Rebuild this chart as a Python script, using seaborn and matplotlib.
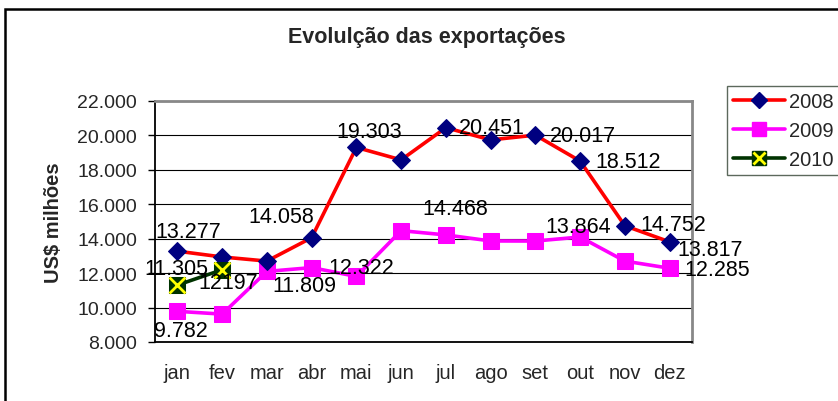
import matplotlib
matplotlib.use("Agg")
from matplotlib import pyplot as plt
from matplotlib.lines import Line2D
from matplotlib.patches import Rectangle
import numpy as np
import seaborn as sns

# data (US$ milhões)
months = ['jan', 'fev', 'mar', 'abr', 'mai', 'jun', 'jul', 'ago', 'set', 'out', 'nov', 'dez']
exp2008 = [13277, 12940, 12700, 14058, 19303, 18580, 20451, 19740, 20017, 18512, 14752, 13817]
exp2009 = [9782, 9620, 12100, 12322, 11809, 14468, 14220, 13870, 13864, 14100, 12700, 12285]
exp2010 = [11305, 12197]

# data labels as shown on the chart: (series, month index, text)
label_series = ['2008', '2010', '2010', '2008', '2009', '2008', '2009', '2009',
                '2008', '2008', '2008', '2009', '2008', '2008', '2009', '2009']
label_idx = [0, 0, 1, 3, 4, 4, 3, 5, 6, 8, 9, 8, 10, 11, 11, 0]
label_text = ['13.277', '11.305', '12197', '14.058', '11.809', '19.303', '12.322', '14.468',
              '20.451', '20.017', '18.512', '13.864', '14.752', '13.817', '12.285', '9.782']
# label offsets in pixels (layout only)
label_off = [(11, 20), (-1, 17), (6, -13), (-30, 21), (-52, -9), (13, 16), (50, 0), (54, 22),
             (46, 0), (48, 0), (48, 0), (43, 15), (48, 1), (40, -8), (48, -1), (3, -19)]

sns.set_style("white")
plt.rcParams['font.family'] = ['Liberation Sans', 'DejaVu Sans']

fig = plt.figure(figsize=(8.38, 4.02), dpi=100)
ax = fig.add_axes([155 / 838, 59 / 402, 537 / 838, 241 / 402])

x = np.arange(len(months))
sns.lineplot(x=x, y=exp2008, ax=ax, color='#FF0000', lw=2.6, marker='D', markersize=9.5,
             markerfacecolor='#000080', markeredgecolor='#000080', zorder=4)
sns.lineplot(x=x, y=exp2009, ax=ax, color='#FF00FF', lw=2.6, marker='s', markersize=12,
             markerfacecolor='#FF00FF', markeredgecolor='#FF00FF', zorder=3)
x10 = x[:len(exp2010)]
sns.lineplot(x=x10, y=exp2010, ax=ax, color='#003300', lw=2.6, marker='s', markersize=12,
             markerfacecolor='#003300', markeredgecolor='#003300', zorder=5)
ax.plot(x10, exp2010, ls='none', marker='x', markersize=11, mew=2, color='#FFFF00', zorder=6)

series = {'2008': exp2008, '2009': exp2009, '2010': exp2010}
for s, i, t, (dx, dy) in zip(label_series, label_idx, label_text, label_off):
    ax.annotate(t, (x[i], series[s][i]), xytext=(dx, dy), textcoords='offset pixels',
                ha='center', va='center', fontsize=15.5, color='black', zorder=7)

ax.set_xlim(-0.5, 11.5)
ax.set_ylim(8000, 22000)
ax.set_yticks(np.arange(8000, 22001, 2000))
ax.set_yticklabels([f"{v:,.0f}".replace(",", ".") for v in np.arange(8000, 22001, 2000)], fontsize=14)
ax.set_xticks(x)
ax.set_xticklabels(months, fontsize=14.5)
ax.set_xticks(np.arange(-0.5, 12, 1), minor=True)
ax.tick_params(axis='x', which='major', length=0, pad=15)
ax.tick_params(axis='x', which='minor', length=5, width=1, direction='out', color='black')
ax.tick_params(axis='y', length=5, width=1, direction='out', color='black', left=True, pad=8)
ax.grid(axis='y', color='black', lw=0.8)
ax.set_axisbelow(True)
for sp in ['left', 'bottom']:
    ax.spines[sp].set_color('black')
    ax.spines[sp].set_linewidth(1.3)
for sp in ['top', 'right']:
    ax.spines[sp].set_color('#888888')
    ax.spines[sp].set_linewidth(2)
ax.set_xlabel('')
ax.set_ylabel('US$ milhões', fontsize=14.5, fontweight='bold', labelpad=10)

fig.text(427 / 838, 1 - 38 / 402, 'Evolulção das exportações', ha='center', va='center',
         fontsize=15.5, fontweight='bold')

# outer chart border
fig.patches.append(Rectangle((5 / 838, -0.1), 1.2, 1 - 9.5 / 402 + 0.1, transform=fig.transFigure,
                             fill=False, edgecolor='black', lw=1.8, clip_on=False))

h08 = Line2D([], [], color='#FF0000', lw=2.6, marker='D', markersize=8,
             markerfacecolor='#000080', markeredgecolor='#000080')
h09 = Line2D([], [], color='#FF00FF', lw=2.6, marker='s', markersize=10,
             markerfacecolor='#FF00FF', markeredgecolor='#FF00FF')
h10a = Line2D([], [], color='#003300', lw=2.6, marker='s', markersize=10,
              markerfacecolor='#003300', markeredgecolor='#003300')
h10b = Line2D([], [], ls='none', marker='x', markersize=9, mew=2, color='#FFFF00')
leg = fig.legend([h08, h09, (h10a, h10b)], ['2008', '2009', '2010'],
                 loc='upper left', bbox_to_anchor=(727 / 838, 1 - 87 / 402),
                 fontsize=14.5, frameon=True, fancybox=False, handlelength=2.6,
                 handletextpad=0.2, borderpad=0.3, labelspacing=0.5, borderaxespad=0)
leg.get_frame().set_edgecolor('#334433')
leg.get_frame().set_linewidth(1)

fig.savefig('out.png', dpi=100)
